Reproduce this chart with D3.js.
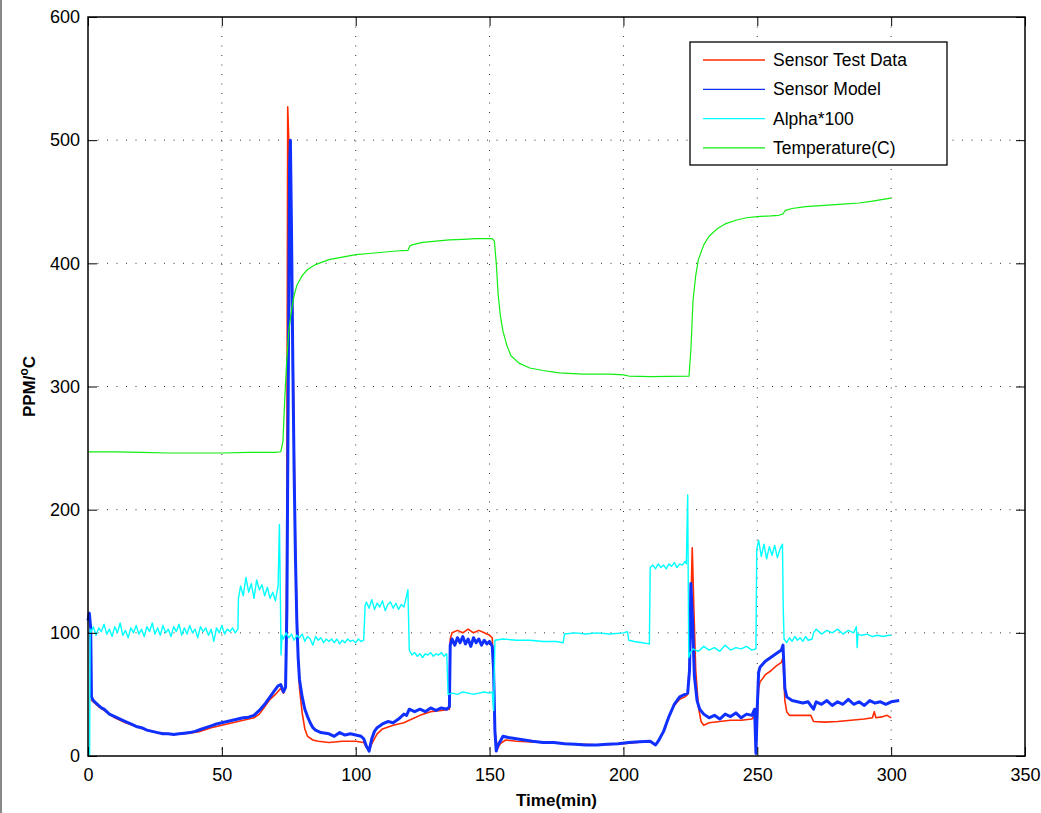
<!DOCTYPE html>
<html>
<head>
<meta charset="utf-8">
<script src="https://cdn.jsdelivr.net/npm/d3@7"></script>
<style>
  body { margin: 0; background: #fff; }
  text { font-family: "Liberation Sans", Arial, sans-serif; }
</style>
</head>
<body>
<svg id="chart" width="1041" height="813"></svg>
<script>
// values, [time (min), value]
const temperature = [[0,247],[10,247],[20,246.5],[30,246],[40,246],[50,246],[60,246.5],[70,246.5],[72,247],[72.8,255],[73.5,290],[74.2,320],[75,345],[76,362],[77,374],[78,382],[80,390],[82,395],[85,399],[90,403],[95,405],[100,407],[105,408],[110,409],[115,410],[119.5,410.5],[120.2,414],[121,415],[125,417],[130,418],[135,419],[140,419.5],[145,420],[151,420],[151.8,418],[152.5,400],[153.2,375],[154,358],[155,345],[156.5,333],[158,325],[161,319],[165,315],[170,313],[176,311],[185,310],[195,310],[200,309.5],[202,308.5],[210,308],[224.5,308.5],[225.2,330],[226,370],[227,390],[228,403],[230,415],[232,422],[235,428],[238,432],[242,435],[246,437],[250,438],[255,438.5],[258,439],[259.5,440],[260.5,443],[263,444.5],[268,446],[275,447],[282,448],[288,449],[293,450.5],[297,452],[300,453]];

const sensorModel = [[0,110],[0.5,116],[1,104],[1.3,48],[2,45],[3,43],[4,41],[5,39],[6,38],[7,36],[8,34],[9,33],[10,32],[12,30],[14,28],[16,26],[18,24],[20,23],[22,21],[24,20],[26,19],[28,18],[30,18],[32,17.5],[34,18],[36,18.5],[38,19],[40,20],[42,21.5],[44,23],[46,24.5],[48,26],[50,27],[52,28],[54,29],[56,30],[58,31],[60,31.5],[62,33],[64,37],[66,42],[68,48],[70,54],[71,57],[72,58],[73,52],[73.8,56],[74.3,120],[74.8,300],[75.3,480],[75.6,500],[76,430],[76.5,320],[77,230],[77.5,160],[78,110],[78.5,80],[79,62],[80,48],[81,38],[82,32],[83,27],[84,23],[85,21],[87,19],[90,18],[92,16],[94,19],[96,17],[98,18],[100,17],[102,16],[103,14],[104,8],[105,4],[105.5,9],[106,14],[107,20],[108,23],[110,26],[112,28],[114,27],[116,30],[118,34],[119,33],[120,38],[122,36],[124,38],[126,36],[128,39],[130,37],[132,39],[134,38],[135,40],[135.3,90],[136,95],[137,90],[138,96],[139,92],[140,97],[141,91],[142,95],[143,89],[144,96],[145,92],[146,95],[147,90],[148,94],[149,91],[150,93],[151,89],[151.5,70],[152,20],[152.5,4],[153,8],[154,12],[155,16],[157,15],[160,14],[163,13],[166,12],[170,11],[174,11],[178,10],[182,9.5],[186,9],[190,9],[194,9.5],[198,10],[202,11],[206,11.5],[210,12],[212,9],[213,12],[215,20],[217,32],[219,42],[221,48],[223,50],[224,51],[224.7,70],[225.2,140],[225.8,110],[226.5,65],[227.5,45],[228.5,38],[230,34],[232,31],[234,33],[236,30],[238,34],[240,32],[242,35],[244,31],[246,34],[248,33],[249,38],[249.5,2],[250,40],[250.5,68],[251,72],[253,77],[255,80],[257,83],[259,86],[259.6,90],[260.3,55],[261,48],[263,45],[265,44],[267,43],[269,44],[271,38],[272,44],[274,42],[276,45],[278,41],[280,44],[282,42],[284,46],[286,42],[288,44],[290,41],[292,45],[294,43],[296,44],[298,42],[300,44],[303,45]];

const sensorTest = [[1,46],[2,44],[4,40],[6,37],[8,34],[10,31],[14,27],[18,24],[22,21],[26,19],[30,18],[34,18],[38,18.5],[42,20],[46,23],[50,25],[54,27],[58,29],[62,31],[64,34],[66,40],[68,46],[70,50],[72,55],[73,51],[73.8,55],[74.2,150],[74.6,527],[75,500],[75.5,460],[76,420],[76.5,340],[77,250],[77.5,170],[78,115],[78.5,80],[79,55],[80,35],[81,22],[82,16],[84,13],[86,12],[90,11],[95,12],[100,12],[103,11],[104,7],[105,5],[106,10],[108,18],[110,22],[114,25],[118,27],[120,29],[124,33],[128,36],[132,37],[135,38],[135.3,95],[136,100],[138,102],[140,100],[142,103],[144,100],[146,102],[148,100],[150,98],[151,96],[151.5,70],[152,20],[153,6],[154,10],[156,13],[160,12],[170,11],[180,10],[190,9],[200,10],[210,12],[212,9],[213,12],[215,20],[217,32],[219,41],[221,46],[223,48],[224,50],[224.8,80],[225.7,169],[226.3,120],[227,70],[228,40],[229,28],[230,25],[232,27],[236,28],[240,29],[244,29],[248,30],[249,33],[249.5,10],[250,30],[250.5,55],[251,60],[253,66],[255,69],[257,73],[259,76],[259.6,80],[260.3,45],[261,36],[262,33],[266,33],[270,33],[271,28],[275,27.5],[280,28],[285,29],[290,30],[293,31],[293.7,36],[294.3,31],[297,32],[298.5,33],[300,31]];

const alpha = [[0.3,0],[0.6,0],[0.8,103],[1,100],[2,105],[3,98],[4,104],[5,101],[6,107],[7,99],[8,103],[9,97],[10,105],[11,100],[12,108],[13,98],[14,102],[15,96],[16,104],[17,100],[18,106],[19,99],[20,103],[21,97],[22,105],[23,101],[24,108],[25,99],[26,104],[27,98],[28,106],[29,100],[30,103],[31,97],[32,105],[33,101],[34,107],[35,98],[36,104],[37,99],[38,106],[39,100],[40,103],[41,96],[42,105],[43,101],[44,104],[45,98],[46,103],[47,93],[48,104],[49,100],[50,106],[51,99],[52,103],[53,101],[54,104],[55,100],[56,103],[56.2,128],[57,138],[58,130],[59,145],[60,133],[61,140],[62,128],[63,143],[64,135],[65,139],[66,130],[67,137],[68,128],[69,133],[70,126],[71,138],[71.5,188],[71.8,140],[72.1,82],[72.5,98],[73,95],[74,100],[75,96],[76,99],[77,94],[78,98],[79,96],[80,99],[81,93],[82,97],[83,95],[84,90],[85,97],[86,94],[87,96],[88,92],[89,95],[90,93],[91,95],[92,92],[93,95],[94,91],[95,94],[96,92],[97,95],[98,93],[99,94],[100,92],[101,95],[102,93],[103,94],[103.5,122],[104,125],[105,120],[106,127],[107,119],[108,124],[109,121],[110,126],[111,118],[112,123],[113,125],[114,120],[115,124],[116,119],[117,123],[118,121],[119,130],[119.5,135],[120,86],[121,82],[122,84],[123,81],[124,83],[125,80],[126,83],[127,82],[128,84],[129,81],[130,83],[131,82],[132,84],[133,81],[134,83],[134.5,50],[136,51],[138,50],[140,52],[142,51],[144,50],[146,51],[148,52],[150,51],[151,52],[151.5,37],[152,94],[155,95],[160,94],[165,94],[170,93],[175,93],[177.5,92],[178,99],[182,100],[186,99],[190,100],[195,99],[200,100],[201.5,101],[202,94],[204,93],[207,92],[209.7,91],[210,153],[211,155],[212,152],[213,156],[214,153],[215,155],[216,152],[217,156],[218,154],[219,157],[220,153],[221,156],[222,155],[223,158],[223.5,156],[224,212],[224.4,80],[225,84],[226,87],[228,85],[230,89],[232,86],[234,88],[236,85],[238,90],[240,86],[242,88],[244,87],[246,89],[248,86],[249.5,87],[249.8,168],[250.5,175],[251.5,162],[252.5,172],[253.5,160],[254.5,170],[255.5,163],[256.5,171],[257.5,161],[258.5,168],[259.4,172],[259.7,120],[260,95],[261,92],[262,96],[263,93],[264,97],[265,94],[266,96],[267,93],[268,97],[269,94],[270.5,95],[271,100],[272,103],[274,99],[276,102],[278,100],[280,103],[282,99],[284,102],[286,100],[287,105],[287.3,88],[287.6,99],[289,98],[291,99],[293,97],[295,98],[297,97],[299,98],[300,98]];

const seriesNames = ["Sensor Test Data", "Sensor Model", "Alpha*100", "Temperature(C)"];
const xTicks = [0, 50, 100, 150, 200, 250, 300, 350];
const yTicks = [0, 100, 200, 300, 400, 500, 600];

const svg = d3.select("#chart");
const width = +svg.attr("width");
const height = +svg.attr("height");
const margin = { top: 17, right: 16, bottom: 57, left: 88 };

svg.append("rect").attr("width", width).attr("height", height).attr("fill", "#fff");
// window edge on the left
svg.append("line").attr("x1", 1).attr("x2", 1).attr("y1", 0).attr("y2", height)
  .attr("stroke", "#888").attr("stroke-width", 2);

const x = d3.scaleLinear().domain([0, 350]).range([margin.left, width - margin.right]);
const y = d3.scaleLinear().domain([0, 600]).range([height - margin.bottom, margin.top]);

const color = d3.scaleOrdinal()
  .domain(seriesNames)
  .range(["#ff2a00", "#1030ff", "#00ffff", "#11ee11"]);

// dotted grid
svg.append("g")
  .selectAll("line")
  .data(xTicks.slice(1, -1))
  .enter().append("line")
  .attr("x1", d => x(d)).attr("x2", d => x(d))
  .attr("y1", y(600)).attr("y2", y(0))
  .attr("stroke", "#333").attr("stroke-dasharray", "1,8.5");

svg.append("g")
  .selectAll("line")
  .data(yTicks.slice(1, -1))
  .enter().append("line")
  .attr("y1", d => y(d)).attr("y2", d => y(d))
  .attr("x1", x(0)).attr("x2", x(350))
  .attr("stroke", "#333").attr("stroke-dasharray", "1,8.5");

// lines
const line = d3.line().x(d => x(d[0])).y(d => y(d[1]));
const series = [
  { name: "Sensor Test Data", data: sensorTest, w: 1.6 },
  { name: "Sensor Model", data: sensorModel, w: 3 },
  { name: "Alpha*100", data: alpha, w: 1.4 },
  { name: "Temperature(C)", data: temperature, w: 1.2 }
];
svg.append("g").selectAll("path")
  .data(series)
  .enter().append("path")
  .attr("d", d => line(d.data))
  .attr("fill", "none")
  .attr("stroke", d => color(d.name))
  .attr("stroke-width", d => d.w)
  .attr("stroke-linejoin", "round");

// axes, ticks inside like matlab
const axisFont = g => g.selectAll("text").attr("font-size", "18px").attr("fill", "#000")
  .attr("font-family", "Liberation Sans, Arial, sans-serif");

svg.append("g")
  .attr("transform", `translate(0,${y(0)})`)
  .call(d3.axisBottom(x).tickValues(xTicks).tickSizeInner(-9).tickSizeOuter(0).tickPadding(12))
  .call(axisFont)
  .call(g => g.select(".domain").remove());

svg.append("g")
  .attr("transform", `translate(${x(0)},0)`)
  .call(d3.axisLeft(y).tickValues(yTicks).tickSizeInner(-9).tickSizeOuter(0).tickPadding(8))
  .call(axisFont)
  .call(g => g.select(".domain").remove());

svg.append("g")
  .attr("transform", `translate(0,${y(600)})`)
  .call(d3.axisTop(x).tickValues(xTicks).tickSizeInner(-9).tickSizeOuter(0).tickFormat(""))
  .call(g => g.select(".domain").remove());

svg.append("g")
  .attr("transform", `translate(${x(350)},0)`)
  .call(d3.axisRight(y).tickValues(yTicks).tickSizeInner(-9).tickSizeOuter(0).tickFormat(""))
  .call(g => g.select(".domain").remove());

svg.append("rect")
  .attr("x", x(0)).attr("y", y(600))
  .attr("width", x(350) - x(0)).attr("height", y(0) - y(600))
  .attr("fill", "none").attr("stroke", "#000").attr("stroke-width", 1.5);

// labels
svg.append("text")
  .attr("x", (x(0) + x(350)) / 2)
  .attr("y", 806)
  .attr("text-anchor", "middle")
  .attr("font-size", "17px")
  .attr("font-weight", "bold")
  .text("Time(min)");

const yl = svg.append("text")
  .attr("transform", `translate(35,${(y(0) + y(600)) / 2}) rotate(-90)`)
  .attr("text-anchor", "middle")
  .attr("font-size", "17px")
  .attr("font-weight", "bold");
yl.append("tspan").text("PPM/");
yl.append("tspan").attr("dy", -7).attr("font-size", "12px").text("o");
yl.append("tspan").attr("dy", 7).text("C");

// legend
const legend = svg.append("g").attr("transform", "translate(690,42)");
legend.append("rect")
  .attr("width", 257).attr("height", 123)
  .attr("fill", "#fff").attr("stroke", "#000").attr("stroke-width", 1.3);

const rows = legend.selectAll("g.row")
  .data(seriesNames)
  .enter().append("g")
  .attr("class", "row")
  .attr("transform", (d, i) => `translate(0,${18 + i * 29.3})`);

rows.append("line")
  .attr("x1", 13).attr("x2", 75)
  .attr("stroke", d => color(d)).attr("stroke-width", 1.3);

rows.append("text")
  .attr("x", 83)
  .attr("y", 6)
  .attr("font-size", "17.5px")
  .text(d => d);
</script>
</body>
</html>
